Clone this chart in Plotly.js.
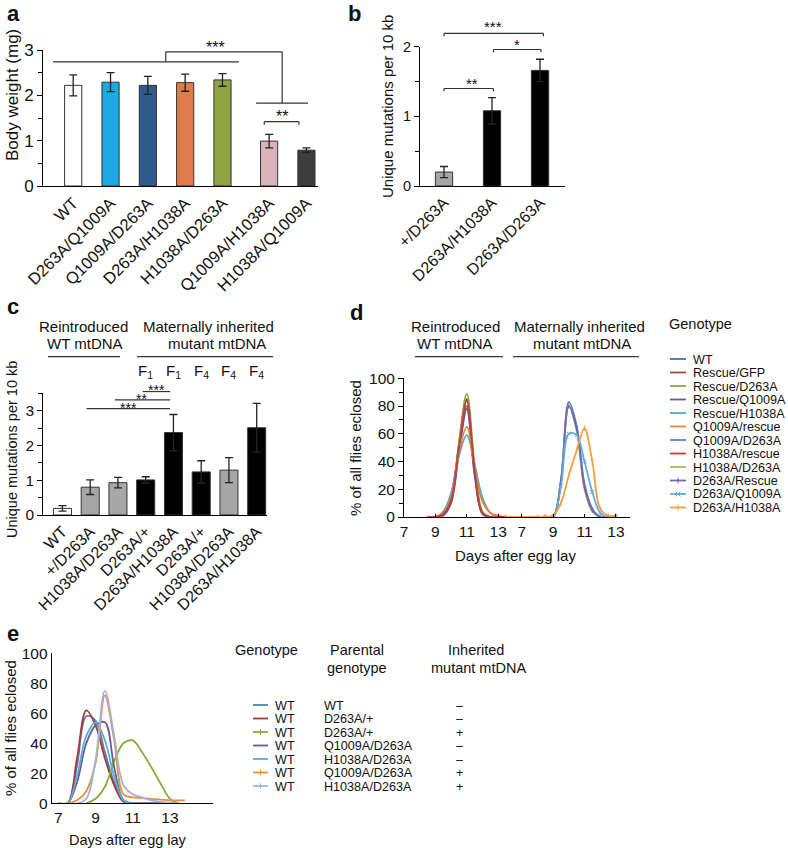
<!DOCTYPE html>
<html>
<head>
<meta charset="utf-8">
<script src="https://cdn.plot.ly/plotly-3.0.1.min.js"></script>
<style>
html, body { margin: 0; padding: 0; background: #fff; }
#fig { width: 788px; height: 848px; }
</style>
</head>
<body>
<div id="fig"></div>
<script>
// panel a: body weight
const aGenotypes = ['WT', 'D263A/Q1009A', 'Q1009A/D263A', 'D263A/H1038A', 'H1038A/D263A', 'Q1009A/H1038A', 'H1038A/Q1009A'];
const aWeight = [2.22, 2.29, 2.22, 2.28, 2.34, 0.99, 0.79];
const aWeightSem = [0.23, 0.21, 0.2, 0.19, 0.14, 0.15, 0.05];

// panel b: unique mutations
const bGenotypes = ['+/D263A', 'D263A/H1038A', 'D263A/D263A'];
const bMutations = [0.2, 1.08, 1.66];
const bMutationsSem = [0.08, 0.19, 0.16];

// panel c: unique mutations by generation
const cGenotypes = ['WT', '+/D263A', 'H1038A/D263A', 'D263A/+', 'D263A/H1038A', 'D263A/+', 'H1038A/D263A', 'D263A/H1038A'];
const cGeneration = ['', '', '', 'F<sub>1</sub>', 'F<sub>1</sub>', 'F<sub>4</sub>', 'F<sub>4</sub>', 'F<sub>4</sub>'];
const cMutations = [0.19, 0.8, 0.93, 1.01, 2.37, 1.24, 1.29, 2.51];
const cMutationsSem = [0.08, 0.21, 0.15, 0.09, 0.52, 0.32, 0.36, 0.7];

// panel d: eclosion timing (% of flies per day)
const dDaysReintroduced = [8.5, 9, 9.5, 10, 10.5, 11, 11.5, 12, 12.5, 13, 13.5];
const dDaysInherited = [6, 7, 8, 8.5, 9, 9.5, 10, 10.5, 11, 11.5, 12, 12.5, 13];
const dTickDays = [7, 9, 11, 13];
const dGenotypes = ['WT', 'Rescue/GFP', 'Rescue/D263A', 'Rescue/Q1009A', 'Rescue/H1038A', 'Q1009A/rescue',
  'Q1009A/D263A', 'H1038A/rescue', 'H1038A/D263A', 'D263A/Rescue', 'D263A/Q1009A', 'D263A/H1038A'];
const dInherited = [false, false, false, false, false, false, true, false, true, true, true, true];
const dWT = [0, 0, 3, 16, 50, 80, 32, 3, 0, 0, 0];
const dRescueGFP = [0, 0, 2, 13, 52, 85, 35, 3, 0, 0, 0];
const dRescueD263A = [0, 0, 2, 12, 54, 89, 38, 4, 0, 0, 0];
const dRescueQ1009A = [0, 0, 1, 10, 46, 78, 30, 2, 0, 0, 0];
const dRescueH1038A = [0, 0, 4, 17, 44, 59, 38, 14, 3, 0, 0];
const dQ1009ARescue = [0, 0, 3, 14, 47, 65, 36, 11, 3, 1, 0];
const dQ1009AD263A = [null, null, null, 0, 0, 26, 83, 66, 24, 6, 0, 0, 0];
const dH1038AD263A = [null, null, null, 0, 0, 27, 80, 62, 20, 4, 0, 0, 0];
const dH1038ARescue = [0, 0, 2, 12, 50, 84, 34, 3, 0, 0, 0];
const dD263ARescue = [null, null, null, 0, 0, 26, 80, 64, 22, 5, 0, 0, 0];
const dD263AQ1009A = [null, null, null, 0, 0, 22, 60, 59, 40, 18, 3, 0, 0];
const dD263AH1038A = [0, 0, 0, 0, 1, 10, 30, 48, 64, 40, 6, 1, 1];

// panel e: eclosion of WT offspring
const eDays = [7, 7.5, 8, 8.5, 9, 9.5, 10, 10.5, 11, 11.5, 12, 12.5, 13, 13.5, 13.8];
const eTickDays = [7, 9, 11, 13];
const eGenotype = ['WT', 'WT', 'WT', 'WT', 'WT', 'WT', 'WT'];
const eParental = ['WT', 'D263A/+', 'D263A/+', 'Q1009A/D263A', 'H1038A/D263A', 'Q1009A/D263A', 'H1038A/D263A'];
const eInherited = ['–', '–', '+', '–', '–', '+', '+'];
const eWT = [0, 0, 25, 58, 55, 34, 14, 2, 0, 0, 0, 0, 0, null, null];
const eD263APlusNo = [0, 0, 30, 62, 52, 30, 12, 1, 0, 0, 0, 0, 0, null, null];
const eD263APlusYes = [null, null, null, 0, 3, 11, 28, 40, 42, 34, 24, 13, 3, 0, null];
const eQ1009AD263ANo = [0, 0, 14, 40, 52, 54, 24, 2, 0, 0, 0, null, null, null, null];
const eH1038AD263ANo = [0, 0, 18, 45, 54, 42, 18, 2, 0, 0, 0, null, null, null, null];
const eQ1009AD263AYes = [0, 0, 2, 8, 27, 72, 42, 6, 4, 3.5, 3, 2.5, 2, 2, 2];
const eH1038AD263AYes = [null, null, 0, 3, 29, 75, 45, 12, 6, 4, 2, 1, 0.5, 0, null];

// ---------- styles / layout ----------
const W = 788, H = 848;
const FONT = 'Liberation Sans, Arial, sans-serif';
const INK = '#111';
const px = x => x / W;
const py = y => 1 - y / H;

const aColors = ['#ffffff', '#1ba9e1', '#2e5a8c', '#e07b4c', '#8ea43f', '#d9b3b8', '#3d3d3d'];
const bColors = ['#a6a6a6', '#000000', '#000000'];
const cColors = ['#ffffff', '#a6a6a6', '#a6a6a6', '#000000', '#000000', '#000000', '#a6a6a6', '#000000'];
const dColors = ['#4a6fab', '#a3453c', '#8aa84a', '#6a569c', '#56a9c8', '#e2873a',
  '#5b83c8', '#c23f3b', '#9cc15e', '#7463b4', '#62aadb', '#f2a040'];
const dMarkers = [null, null, null, null, null, null, null, null, null, 'line-ns-open', 'x-thin-open', 'line-ns-open'];
const eColors = ['#4f7fc0', '#a8393a', '#8aab3c', '#6a5a9a', '#5aaed0', '#e8903a', '#a3b1dd'];
const eMarkers = [null, null, 'line-ns-open', null, null, 'line-ns-open', 'line-ns-open'];
const D_OFFSET = 7.5; // second block of panel d starts after a gap

// pixel boxes of each plot area
const AX = {
  a: {x0: 43, x1: 318, xr: [-0.81, 6.56], y0: 186, y1: 50, yr: [0, 3]},
  b: {x0: 420, x1: 565, xr: [-0.5, 2.52], y0: 186, y1: 46.7, yr: [0, 2]},
  c: {x0: 43.3, x1: 266.7, xr: [-0.69, 7.36], y0: 515, y1: 393.3, yr: [0, 3.5]},
  d: {x0: 404, x1: 630, xr: [7, 21.4], y0: 517, y1: 378.3, yr: [0, 100]},
  e: {x0: 51.7, x1: 213.3, xr: [6.64, 15.33], y0: 803.3, y1: 653.3, yr: [0, 100]}
};
const sx = (p, v) => { const a = AX[p]; return a.x0 + (v - a.xr[0]) / (a.xr[1] - a.xr[0]) * (a.x1 - a.x0); };
const sy = (p, v) => { const a = AX[p]; return a.y0 + (v - a.yr[0]) / (a.yr[1] - a.yr[0]) * (a.y1 - a.y0); };

const aX = aGenotypes.map((g, i) => i + (i >= 5 ? 0.25 : 0));
const bX = bGenotypes.map((g, i) => i);
const cX = cGenotypes.map((g, i) => i);

const traces = [];
function barTrace(x, y, err, colors, width, xa, ya) {
  return {
    type: 'bar', x: x, y: y, width: width, xaxis: xa, yaxis: ya,
    marker: {color: colors, line: {color: '#333', width: 1}},
    error_y: {type: 'data', array: err, color: '#222', thickness: 1.3, width: 4},
    showlegend: false, hoverinfo: 'skip'
  };
}
traces.push(barTrace(aX, aWeight, aWeightSem, aColors, 0.46, 'x', 'y'));
traces.push(barTrace(bX, bMutations, bMutationsSem, bColors, 0.36, 'x2', 'y2'));
traces.push(barTrace(cX, cMutations, cMutationsSem, cColors, 0.65, 'x3', 'y3'));

const dValues = [dWT, dRescueGFP, dRescueD263A, dRescueQ1009A, dRescueH1038A, dQ1009ARescue,
  dQ1009AD263A, dH1038ARescue, dH1038AD263A, dD263ARescue, dD263AQ1009A, dD263AH1038A];
dValues.forEach((vals, i) => {
  const late = dInherited[i];
  const days = late ? dDaysInherited : dDaysReintroduced;
  traces.push({
    type: 'scatter', mode: dMarkers[i] ? 'lines+markers' : 'lines',
    x: days.map(d => d + (late ? D_OFFSET : 0)), y: vals, xaxis: 'x4', yaxis: 'y4',
    line: {color: dColors[i], width: 1.8, shape: 'spline', smoothing: 1},
    marker: {symbol: dMarkers[i] || 'circle', size: 4, color: dColors[i], line: {color: dColors[i], width: 1}},
    name: dGenotypes[i], showlegend: false, hoverinfo: 'skip'
  });
});

const eValues = [eWT, eD263APlusNo, eD263APlusYes, eQ1009AD263ANo, eH1038AD263ANo, eQ1009AD263AYes, eH1038AD263AYes];
eValues.forEach((vals, i) => {
  traces.push({
    type: 'scatter', mode: 'lines', x: eDays, y: vals, xaxis: 'x5', yaxis: 'y5',
    line: {color: eColors[i], width: 1.8, shape: 'spline', smoothing: 1},
    name: eParental[i], showlegend: false, hoverinfo: 'skip'
  });
});

// axes
function axis(p, isX, extra) {
  const a = AX[p];
  const base = {
    domain: isX ? [px(a.x0), px(a.x1)] : [py(a.y0), py(a.y1)],
    range: isX ? a.xr : a.yr,
    showline: true, linecolor: '#000', linewidth: 1, showgrid: false, zeroline: false,
    ticks: '', tickcolor: '#000', automargin: false, fixedrange: true,
    tickfont: {family: FONT, size: 15, color: INK}
  };
  return Object.assign(base, extra);
}
const yTicks = (dtick, minor, size) => ({
  tickmode: 'linear', tick0: 0, dtick: dtick, ticks: 'outside', ticklen: 5,
  minor: {dtick: minor, ticks: 'outside', ticklen: 4, tickcolor: '#000'},
  tickfont: {family: FONT, size: size, color: INK}
});

const layout = {
  width: W, height: H, margin: {l: 0, r: 0, t: 0, b: 0},
  paper_bgcolor: '#fff', plot_bgcolor: 'rgba(0,0,0,0)',
  font: {family: FONT, color: INK},
  showlegend: false, bargap: 0,
  xaxis: axis('a', true, {anchor: 'y', tickmode: 'array', tickvals: aX, ticktext: aGenotypes, tickangle: -45,
    tickfont: {family: FONT, size: 16.5, color: INK}}),
  yaxis: axis('a', false, Object.assign({anchor: 'x'}, yTicks(1, 0.5, 17))),
  xaxis2: axis('b', true, {anchor: 'y2', tickmode: 'array', tickvals: bX, ticktext: bGenotypes, tickangle: -45,
    tickfont: {family: FONT, size: 16, color: INK}}),
  yaxis2: axis('b', false, Object.assign({anchor: 'x2'}, yTicks(1, 0.5, 14.5))),
  xaxis3: axis('c', true, {anchor: 'y3', tickmode: 'array', tickvals: cX, ticktext: cGenotypes, tickangle: -45,
    tickfont: {family: FONT, size: 16, color: INK}}),
  yaxis3: axis('c', false, Object.assign({anchor: 'x3'}, yTicks(1, 0.5, 15.5))),
  xaxis4: axis('d', true, {anchor: 'y4', tickmode: 'array',
    tickvals: dTickDays.concat(dTickDays.map(d => d + D_OFFSET)),
    ticktext: dTickDays.concat(dTickDays).map(String), ticks: 'inside', ticklen: 3,
    tickfont: {family: FONT, size: 15.5, color: INK}}),
  yaxis4: axis('d', false, Object.assign({anchor: 'x4'}, yTicks(20, 10, 15.5))),
  xaxis5: axis('e', true, {anchor: 'y5', tickmode: 'array', tickvals: eTickDays, ticktext: eTickDays.map(String),
    tickfont: {family: FONT, size: 15.5, color: INK}}),
  yaxis5: axis('e', false, {anchor: 'x5', tickmode: 'linear', tick0: 0, dtick: 20,
    tickfont: {family: FONT, size: 15.5, color: INK}}),
  annotations: [],
  shapes: []
};

const ann = layout.annotations, shp = layout.shapes;
function txt(text, x, y, opts) {
  const o = Object.assign({xanchor: 'center', yanchor: 'middle', size: 15, angle: 0, bold: false, yshift: 0}, opts || {});
  const a = {
    text: text, x: px(x), y: py(y), xref: 'paper', yref: 'paper', showarrow: false,
    xanchor: o.xanchor, yanchor: o.yanchor, textangle: o.angle, yshift: o.yshift,
    font: {family: FONT, size: o.size, color: INK, weight: o.bold ? 'bold' : 'normal'}
  };
  if (o.height) a.height = o.height;
  ann.push(a);
}
function seg(x0, y0, x1, y1, color, width) {
  shp.push({type: 'line', xref: 'paper', yref: 'paper', x0: px(x0), y0: py(y0), x1: px(x1), y1: py(y1),
    line: {color: color || '#333', width: width || 1.2}});
}
function bracket(p, pts) {
  for (let i = 1; i < pts.length; i++) {
    seg(sx(p, pts[i - 1][0]), sy(p, pts[i - 1][1]), sx(p, pts[i][0]), sy(p, pts[i][1]));
  }
}
function stars(p, s, x, y, size) {
  txt(s, sx(p, x), sy(p, y), {size: size, yshift: -3});
}

// panel letters
txt('a', 5, 14, {xanchor: 'left', size: 22, bold: true});
txt('b', 346, 13, {xanchor: 'left', size: 22, bold: true});
txt('c', 5, 306, {xanchor: 'left', size: 22, bold: true});
txt('d', 348, 312, {xanchor: 'left', size: 22, bold: true});
txt('e', 5, 633, {xanchor: 'left', size: 22, bold: true});

// axis titles
txt('Body weight (mg)', 12, 95, {angle: -90, size: 17});
txt('Unique mutations per 10 kb', 388, 107, {angle: -90, size: 15});
txt('Unique mutations per 10 kb', 12, 450, {angle: -90, size: 14.5});
txt('% of all flies eclosed', 355, 448, {angle: -90, size: 15});
txt('Days after egg lay', 515, 555, {size: 15});
txt('% of all flies eclosed', 10, 728, {angle: -90, size: 15});
txt('Days after egg lay', 128, 840, {size: 14.5});

// significance panel a
bracket('a', [[-0.54, 2.74], [4.44, 2.74]]);
bracket('a', [[2.48, 2.74], [2.48, 2.96], [5.6, 2.96], [5.6, 1.83]]);
bracket('a', [[4.9, 1.83], [6.29, 1.83]]);
bracket('a', [[5.12, 1.35], [5.12, 1.42], [6.05, 1.42], [6.05, 1.35]]);
stars('a', '***', 3.8, 3.12, 16);
stars('a', '**', 5.6, 1.6, 16);

// significance panel b
bracket('b', [[0, 2.15], [0, 2.19], [2.07, 2.19], [2.07, 2.15]]);
bracket('b', [[1.03, 1.92], [1.03, 1.96], [2.02, 1.96], [2.02, 1.92]]);
bracket('b', [[0, 1.36], [0, 1.4], [1.03, 1.4], [1.03, 1.36]]);
stars('b', '***', 1.03, 2.33, 15);
stars('b', '*', 1.52, 2.08, 15);
stars('b', '**', 0.58, 1.52, 15);

// significance panel c
bracket('c', [[2.89, 3.55], [3.88, 3.55]]);
bracket('c', [[1.89, 3.31], [3.88, 3.31]]);
bracket('c', [[0.87, 3.06], [3.88, 3.06]]);
stars('c', '***', 3.4, 3.68, 14);
stars('c', '**', 2.85, 3.42, 14);
stars('c', '***', 2.37, 3.17, 14);

// panel c headers
txt('Reintroduced', 83, 326, {size: 15});
txt('WT mtDNA', 85, 343, {size: 15});
seg(48, 356.7, 120, 356.7, '#333', 1.2);
txt('Maternally inherited', 208, 326, {size: 15});
txt('mutant mtDNA', 217, 343, {size: 15});
seg(137, 356.7, 273, 356.7, '#333', 1.2);
cGeneration.forEach((g, i) => { if (g) txt(g, sx('c', cX[i]), 371, {size: 15}); });

// panel d headers
txt('Reintroduced', 455, 326, {size: 15});
txt('WT mtDNA', 455, 343, {size: 15});
seg(415, 356.7, 503, 356.7, '#333', 1.2);
txt('Maternally inherited', 579, 326, {size: 15});
txt('mutant mtDNA', 582, 343, {size: 15});
seg(513, 356.7, 639, 356.7, '#333', 1.2);

// legend marker glyph
function legendMarker(sym, x, y, color) {
  if (sym === 'line-ns-open') seg(x, y - 3, x, y + 3, color, 1);
  if (sym === 'x-thin-open') { seg(x - 2.5, y - 2.5, x + 2.5, y + 2.5, color, 1); seg(x - 2.5, y + 2.5, x + 2.5, y - 2.5, color, 1); }
}

// panel d legend
txt('Genotype', 667, 324, {xanchor: 'left', size: 14.5});
dGenotypes.forEach((g, i) => {
  const y = 359 + i * 13.5;
  seg(670, y, 686, y, dColors[i], 1.8);
  legendMarker(dMarkers[i], 678, y, dColors[i]);
  txt(g, 691, y, {xanchor: 'left', size: 12.6, height: 13.4});
});

// panel e legend
txt('Genotype', 233, 650, {xanchor: 'left', size: 14.5});
txt('Parental', 357, 650, {size: 14.5});
txt('genotype', 357, 668, {size: 14.5});
txt('Inherited', 476, 650, {size: 14.5});
txt('mutant mtDNA', 478, 668, {size: 14.5});
eGenotype.forEach((g, i) => {
  const y = 705 + i * 13.5;
  seg(253, y, 268, y, eColors[i], 1.8);
  legendMarker(eMarkers[i], 260.5, y, eColors[i]);
  txt(g, 273, y, {xanchor: 'left', size: 12.6, height: 13.4});
  txt(eParental[i], 321.7, y, {xanchor: 'left', size: 12.6, height: 13.4});
  txt(eInherited[i], 459, y, {size: 12.6, height: 13.4});
});

Plotly.newPlot('fig', traces, layout, {displayModeBar: false, staticPlot: true});
</script>
</body>
</html>
